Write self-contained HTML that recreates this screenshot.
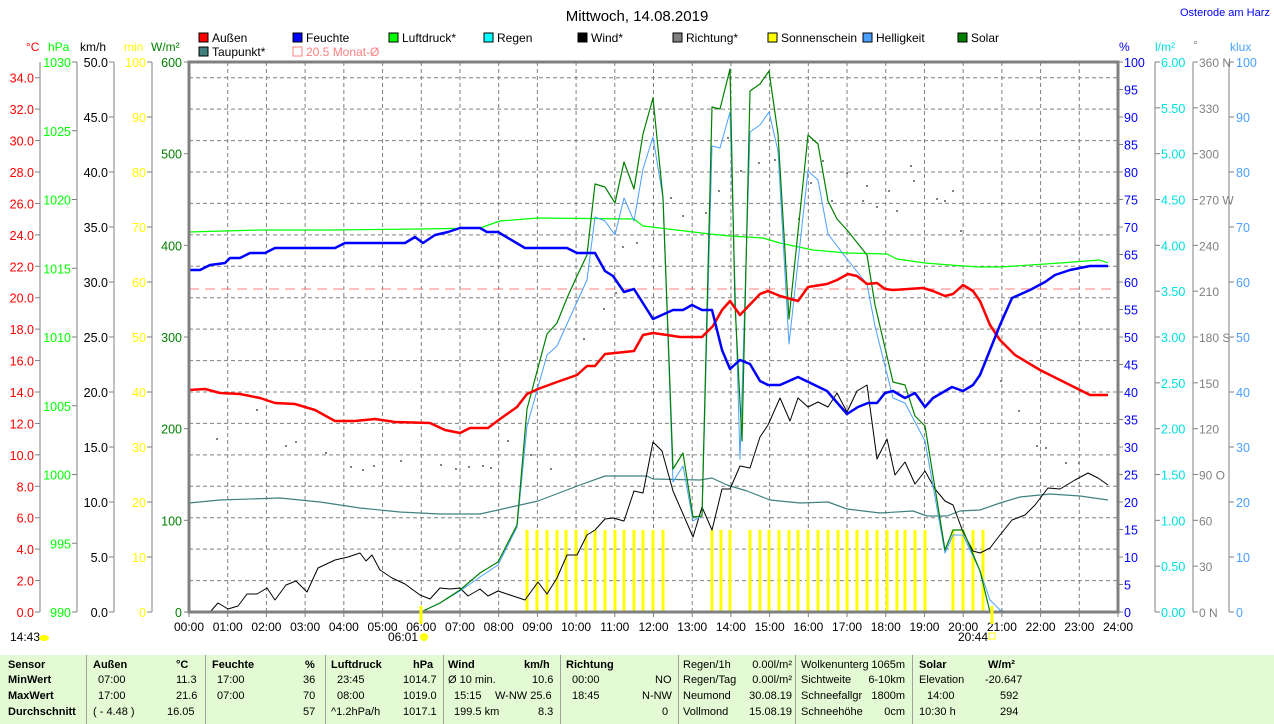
<!DOCTYPE html>
<html><head><meta charset="utf-8"><style>
html,body{margin:0;padding:0;background:#fff;width:1274px;height:724px;overflow:hidden;font-family:"Liberation Sans",sans-serif}
svg{position:absolute;left:0;top:0}
#tb{position:absolute;left:0;top:655px;width:1274px;height:69px;background:#e4fad4;font-size:11px;color:#000}
#tb div{position:absolute;white-space:nowrap}
#tb .r{text-align:right}
.b{font-weight:bold}
.sep{position:absolute;top:0;width:1px;height:69px;background:#a0a0a0}
</style></head><body>
<svg id="s" width="1274" height="655" xmlns="http://www.w3.org/2000/svg" font-family="Liberation Sans, sans-serif" font-size="12"></svg>
<div id="tb">
<div class="sep" style="left:86px"></div><div class="sep" style="left:205px"></div><div class="sep" style="left:325px"></div><div class="sep" style="left:443px"></div><div class="sep" style="left:560px"></div><div class="sep" style="left:678px"></div><div class="sep" style="left:795px"></div><div class="sep" style="left:912px"></div>
<div class="b" style="left:8px;top:4px">Sensor</div><div class="b" style="left:8px;top:19px">MinWert</div><div class="b" style="left:8px;top:35px">MaxWert</div><div class="b" style="left:8px;top:51px">Durchschnitt</div>
<div class="b" style="left:93px;top:4px">Außen</div><div class="b" style="left:176px;top:4px">°C</div>
<div style="left:98px;top:19px">07:00</div><div style="left:176px;top:19px">11.3</div>
<div style="left:98px;top:35px">17:00</div><div style="left:176px;top:35px">21.6</div>
<div style="left:93px;top:51px">( - 4.48 )</div><div style="left:167px;top:51px">16.05</div>
<div class="b" style="left:212px;top:4px">Feuchte</div><div class="b" style="left:305px;top:4px">%</div>
<div style="left:217px;top:19px">17:00</div><div style="left:303px;top:19px">36</div>
<div style="left:217px;top:35px">07:00</div><div style="left:303px;top:35px">70</div>
<div style="left:303px;top:51px">57</div>
<div class="b" style="left:331px;top:4px">Luftdruck</div><div class="b" style="left:413px;top:4px">hPa</div>
<div style="left:337px;top:19px">23:45</div><div style="left:403px;top:19px">1014.7</div>
<div style="left:337px;top:35px">08:00</div><div style="left:403px;top:35px">1019.0</div>
<div style="left:331px;top:51px">^1.2hPa/h</div><div style="left:403px;top:51px">1017.1</div>
<div class="b" style="left:448px;top:4px">Wind</div><div class="b" style="left:524px;top:4px">km/h</div>
<div style="left:448px;top:19px">Ø 10 min.</div><div style="left:532px;top:19px">10.6</div>
<div style="left:454px;top:35px">15:15</div><div style="left:495px;top:35px">W-NW 25.6</div>
<div style="left:454px;top:51px">199.5 km</div><div style="left:538px;top:51px">8.3</div>
<div class="b" style="left:566px;top:4px">Richtung</div>
<div style="left:572px;top:19px">00:00</div><div style="left:655px;top:19px">NO</div>
<div style="left:572px;top:35px">18:45</div><div style="left:642px;top:35px">N-NW</div>
<div style="left:662px;top:51px">0</div>
<div style="left:683px;top:4px">Regen/1h</div><div class="r" style="right:482px;top:4px">0.00l/m²</div>
<div style="left:683px;top:19px">Regen/Tag</div><div class="r" style="right:482px;top:19px">0.00l/m²</div>
<div style="left:683px;top:35px">Neumond</div><div class="r" style="right:482px;top:35px">30.08.19</div>
<div style="left:683px;top:51px">Vollmond</div><div class="r" style="right:482px;top:51px">15.08.19</div>
<div style="left:801px;top:4px">Wolkenunterg</div><div class="r" style="right:369px;top:4px">1065m</div>
<div style="left:801px;top:19px">Sichtweite</div><div class="r" style="right:369px;top:19px">6-10km</div>
<div style="left:801px;top:35px">Schneefallgr</div><div class="r" style="right:369px;top:35px">1800m</div>
<div style="left:801px;top:51px">Schneehöhe</div><div class="r" style="right:369px;top:51px">0cm</div>
<div class="b" style="left:919px;top:4px">Solar</div><div class="b" style="left:988px;top:4px">W/m²</div>
<div style="left:919px;top:19px">Elevation</div><div style="left:985px;top:19px">-20.647</div>
<div style="left:927px;top:35px">14:00</div><div style="left:1000px;top:35px">592</div>
<div style="left:919px;top:51px">10:30 h</div><div style="left:1000px;top:51px">294</div>
</div>
<script>
var s=document.getElementById('s'),h='';
function T(x,y,t,c,a,fs){h+='<text x="'+x+'" y="'+y+'" fill="'+(c||'#000')+'"'+(a?' text-anchor="'+a+'"':'')+(fs?' font-size="'+fs+'"':'')+'>'+t+'</text>';}
function L(x1,y1,x2,y2,c,w,d){h+='<line x1="'+x1+'" y1="'+y1+'" x2="'+x2+'" y2="'+y2+'" stroke="'+c+'" stroke-width="'+(w||1)+'"'+(d?' stroke-dasharray="'+d+'"':'')+'/>';}
function P(pts,c,w){h+='<polyline fill="none" stroke="'+c+'" stroke-width="'+w+'" stroke-linejoin="round" points="'+pts+'"/>';}
var X0=189,X1=1118,Y0=612,Y1=62,H=550;
for(var i=1;i<24;i++){var x=X0+i*(X1-X0)/24;L(x,Y1,x,Y0,'#808080',1,'4,3');}
for(var v=2;v<=34;v+=2){var y=Y0-v*H/35;L(X0,y,X1,y,'#808080',1,'4,3');}
for(var i=0;i<=24;i++){var x=X0+i*(X1-X0)/24;L(x,Y0,x,Y0+5,'#808080');T(x,631,(i<10?'0':'')+i+':00','#000','middle');}
for(var x=X0+10;x<X1;x+=19.35)L(x,Y0,x+2,Y0,'#ffff00',2);
function ax(lx,lo,hi,st,c,fmt){L(lx,Y1,lx,Y0,'#808080');for(var v=lo;v<=hi+1e-9;v+=st){var y=Y0-(v-lo)*H/(hi-lo);L(lx-5,y,lx,y,'#808080');T(lx-6,y+5,fmt(v),c,'end',12.5);}}
L(40,Y1,40,Y0,'#808080');for(var v=0;v<=34;v+=2){var y=Y0-v*H/35;L(35,y,40,y,'#808080');T(34,y+5,v.toFixed(1),'#ff0000','end',12.5);}
ax(77,990,1030,5,'#00ff00',function(v){return v;});
ax(114,0,50,5,'#000',function(v){return v.toFixed(1);});
ax(152,0,100,10,'#ffff00',function(v){return v;});
for(var v=0;v<=600;v+=100){var y=Y0-v*H/600;L(X0-5,y,X0,y,'#808080');T(X0-7,y+5,v,'#008000','end',12.5);}
T(26,51,'°C','#ff0000',null,12);T(48,51,'hPa','#00ff00',null,12);T(80,51,'km/h','#000',null,12);T(124,51,'min','#ffff00',null,12);T(151,51,'W/m²','#008000',null,12);
for(var v=0;v<=100;v+=5){var y=Y0-v*H/100;L(X1,y,X1+5,y,'#808080');T(X1+6,y+5,v,'#0000ff',null,12.5);}
L(1155,Y1,1155,Y0,'#808080');for(var v=0;v<=6;v+=0.5){var y=Y0-v*H/6;L(1155,y,1160,y,'#808080');T(1161,y+5,v.toFixed(2),'#00e0e0',null,12.5);}
L(1193,Y1,1193,Y0,'#808080');var dl={0:'N',90:'O',180:'S',270:'W',360:'N'};for(var v=0;v<=360;v+=30){var y=Y0-v*H/360;L(1193,y,1198,y,'#808080');T(1199,y+5,v+(dl[v]?' '+dl[v]:''),'#808080',null,12);}
L(1229,Y1,1229,Y0,'#808080');for(var v=0;v<=100;v+=10){var y=Y0-v*H/100;L(1229,y,1234,y,'#808080');T(1236,y+5,v,'#4aa0ff',null,12.5);}
T(1119,51,'%','#0000ff',null,12);T(1155,51,'l/m²','#00e0e0',null,12);T(1193,49,'°','#808080',null,12);T(1230,51,'klux','#4aa0ff',null,12);
T(637,21,'Mittwoch, 14.08.2019','#000','middle',15);T(1180,16,'Osterode am Harz','#0000ff',null,11);
function lg(x,y,c,t,o){h+='<rect x="'+x+'" y="'+(y-9)+'" width="9" height="9" fill="'+(o?'none':c)+'" stroke="'+(o?'#ff8080':'#000')+'"/>';T(x+13,y,t,o?'#ff8080':'#000',null,12);}
lg(199,42,'#ff0000','Außen');lg(293,42,'#0000ff','Feuchte');lg(389,42,'#00ff00','Luftdruck*');lg(484,42,'#00ffff','Regen');lg(578,42,'#000000','Wind*');lg(673,42,'#808080','Richtung*');lg(768,42,'#ffff00','Sonnenschein');lg(863,42,'#4aa0ff','Helligkeit');lg(958,42,'#008000','Solar');
lg(199,56,'#408080','Taupunkt*');lg(293,56,'#ff8080','20.5 Monat-Ø',1);
L(X0,289,X1,289,'#ff8080',1,'10,6');
[527,537,547,557,566,576,586,595,605,615,624,634,643,653,663,712,721,730,750,760,769,779,789,798,808,818,828,838,847,857,867,877,887,897,905,915,925,953,963,973,983].forEach(function(x){h+='<rect x="'+(x-1.5)+'" y="530" width="3" height="82" fill="#ffff00"/>';});
[[216,438],[256,409],[285,445],[295,441],[325,452],[350,466],[362,469],[373,465],[400,460],[440,464],[455,468],[468,466],[482,465],[490,467],[507,440],[530,454],[550,468],[583,338],[603,308],[615,292],[622,246],[636,242],[670,197],[682,215],[705,212],[718,190],[727,137],[740,170],[758,162],[774,159],[798,218],[810,182],[822,160],[831,200],[846,172],[862,200],[866,185],[876,206],[888,190],[896,210],[910,165],[913,180],[936,198],[944,200],[952,190],[960,230],[1000,380],[1018,410],[1036,445],[1045,447],[1065,462],[1078,462]].forEach(function(p){h+='<rect x="'+p[0]+'" y="'+p[1]+'" width="2" height="2" fill="#808080"/>';});
P('189,503 220,500 280,498 320,502 360,508 400,512 440,514 480,514 538,501 580,485 605,476 647,476 653,479 700,480 712,478 727,485 747,491 770,500 800,503 828,502 847,509 880,513 913,511 927,516 947,516 960,511 980,510 1000,503 1020,497 1050,494 1080,496 1108,500','#408080',1.2);
P('189,232 260,230 330,230 420,229 480,228 500,221 538,218 634,219 643,226 710,234 730,236 763,238 780,243 813,250 847,253 887,254 897,259 925,263 963,266 980,267 1000,267 1060,263 1100,260 1108,263','#00ff00',1.2);
P('189,612 210,612 218,603 228,609 238,606 247,594 257,594 267,588 275,600 286,585 296,581 307,592 318,568 335,560 348,557 360,553 366,561 372,555 380,570 392,578 405,584 420,595 430,599 440,588 450,589 460,588 468,596 480,589 488,596 498,591 525,600 538,582 547,594 557,578 567,555 577,555 587,535 595,530 605,519 613,518 624,521 634,491 643,493 653,442 662,451 673,491 693,537 702,507 712,530 722,489 730,489 740,466 750,468 760,437 768,425 780,398 790,421 798,398 808,407 818,402 828,407 837,393 847,412 857,391 867,385 877,459 887,439 895,475 905,462 915,484 925,471 935,489 945,501 953,505 963,532 973,551 980,553 990,548 1000,535 1012,520 1025,515 1035,505 1048,488 1060,489 1075,480 1088,473 1098,478 1108,485','#000',1);
P('421,612 440,603 460,591 480,577 498,565 517,527 527,426 547,355 557,346 587,280 595,217 605,221 615,235 624,198 634,221 643,169 653,137 663,198 673,482 683,466 693,521 702,516 712,146 720,148 730,112 740,459 750,132 760,125 769,112 778,151 789,344 808,171 818,180 828,234 847,259 867,284 875,326 893,398 905,403 925,441 945,553 953,535 963,535 980,571 990,600 1000,610 1008,612','#4aa0ff',1);
P('421,612 440,603 460,590 480,573 498,562 517,525 527,409 547,334 557,323 567,298 577,276 587,255 595,184 605,187 615,203 624,162 634,189 643,134 653,98 663,198 667,305 673,469 683,453 693,517 702,516 712,107 720,109 730,69 735,305 742,441 750,91 760,84 769,71 778,134 789,319 808,135 818,144 828,201 837,219 847,230 867,255 875,305 893,382 905,385 915,416 925,426 945,550 953,530 963,530 980,571 990,612','#008000',1.2);
P('189,390 205,389 220,393 240,394 260,398 275,403 295,404 315,410 335,421 355,421 375,419 395,422 430,423 445,430 460,433 470,428 488,428 500,419 517,407 527,394 538,389 557,382 577,375 587,366 595,366 605,354 615,353 634,351 643,335 653,333 667,335 680,337 702,337 713,326 722,310 730,301 740,315 760,294 768,291 780,296 798,301 808,287 827,284 837,280 848,274 857,276 867,284 877,283 885,289 893,290 923,288 933,291 945,296 953,294 963,285 973,291 980,301 990,325 1000,340 1015,355 1040,370 1070,385 1090,395 1108,395','#ff0000',2.5);
P('189,270 200,270 210,265 225,263 230,258 240,258 250,253 265,253 275,248 335,248 345,243 405,243 415,237 423,243 435,235 448,232 460,228 480,228 487,232 498,232 525,248 567,248 577,253 595,253 605,271 613,276 624,292 634,289 653,319 673,310 683,310 692,305 702,310 712,310 722,350 730,369 740,360 750,364 760,381 768,385 780,385 798,377 827,391 847,414 858,407 868,403 877,403 885,393 893,391 905,398 915,393 925,407 933,398 952,387 963,391 973,385 980,375 990,350 1000,325 1012,298 1030,290 1045,282 1055,275 1070,270 1090,266 1108,266','#0000ff',2.5);
h+='<rect x="'+X0+'" y="'+Y1+'" width="'+(X1-X0)+'" height="'+(Y0-Y1)+'" fill="none" stroke="#808080" stroke-width="3"/>';
L(421,606,421,624,'#ffff00',3);L(992,606,992,624,'#ffff00',3);
T(388,641,'06:01','#000',null,12);h+='<circle cx="424" cy="637" r="4" fill="#ffff00"/>';
T(958,641,'20:44','#000',null,12);h+='<rect x="989" y="633" width="6" height="6" fill="none" stroke="#ffff00"/>';
T(10,641,'14:43','#000',null,12);h+='<ellipse cx="44" cy="638" rx="5" ry="3" fill="#ffff00"/>';
s.innerHTML=h;
</script>
</body></html>
